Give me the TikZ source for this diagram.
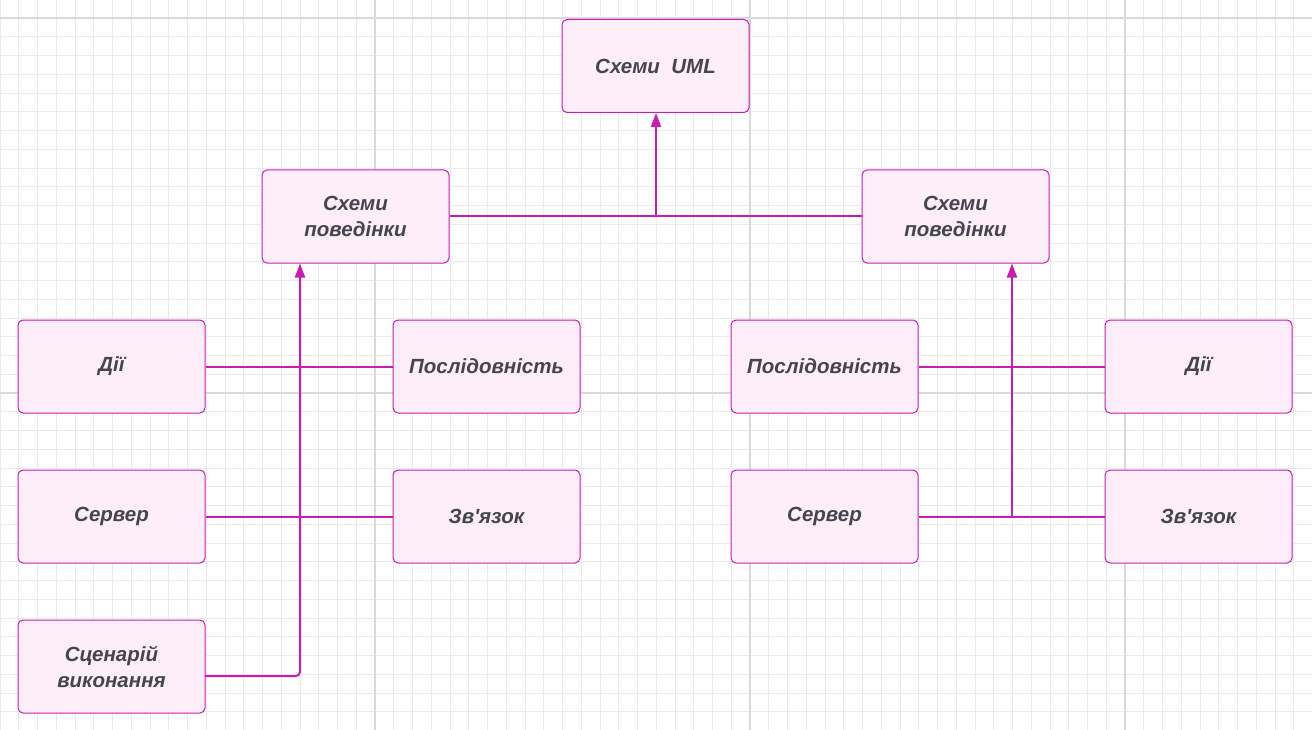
\documentclass[tikz,border=0pt]{standalone}
\usepackage{fontspec}
\setmainfont{Liberation Sans}[Ligatures=TeXOff]
\usetikzlibrary{arrows.meta,calc}
\definecolor{edge}{HTML}{C71DB3}
\definecolor{boxfill}{HTML}{FDEEFA}
\definecolor{txt}{HTML}{45454F}
\definecolor{gridminor}{HTML}{EBEBEB}
\definecolor{gridmajor}{HTML}{DADADA}
\tikzset{
  umlbox/.style={draw=edge, line width=1pt, fill=boxfill, rounded corners=5pt,
    minimum width=187pt, minimum height=93pt, inner sep=0pt, align=center,
    text=txt, font=\fontsize{20.5}{26}\selectfont\bfseries\itshape},
  conn/.style={draw=edge, line width=2pt},
  arr/.style={conn, -{Triangle[width=10pt,length=14pt]}},
  gminor/.style={draw=gridminor, line width=0.9pt},
  gmajor/.style={draw=gridmajor, line width=2pt}
}
\begin{document}
\begin{tikzpicture}[x=1pt,y=-1pt]
\useasboundingbox (0,0) rectangle (1312,730);
\fill[white] (0,0) rectangle (1312,730);
\foreach \i in {0,...,70} {\draw[gminor] (\i*18.75,0) -- (\i*18.75,730);}
\foreach \j in {-1,...,38} {\draw[gminor] (0,18+\j*18.75) -- (1312,18+\j*18.75);}
\foreach \x in {375,750,1125} {\draw[gmajor] (\x,0) -- (\x,730);}
\foreach \y in {18,393} {\draw[gmajor] (0,\y) -- (1312,\y);}

\node[umlbox] (uml) at (655.5,66) {Схеми\ \ UML};
\node[umlbox] (lb) at (355.5,216.5) {Схеми\\поведінки};
\node[umlbox] (rb) at (955.5,216.5) {Схеми\\поведінки};

\node[umlbox] (d1) at (111.5,366.5) {Дії};
\node[umlbox] (p1) at (486.5,366.5) {Послідовність};
\node[umlbox] (s1) at (111.5,516.5) {Сервер};
\node[umlbox] (z1) at (486.5,516.5) {Зв'язок};
\node[umlbox] (sc) at (111.5,666.5) {Сценарій\\виконання};

\node[umlbox] (p2) at (824.5,366.5) {Послідовність};
\node[umlbox] (d2) at (1198.5,366.5) {Дії};
\node[umlbox] (s2) at (824.5,516.5) {Сервер};
\node[umlbox] (z2) at (1198.5,516.5) {Зв'язок};

% top
\draw[conn] (lb.east) -- (rb.west);
\coordinate (topj) at (656,216.5);
\draw[arr] (topj) -- (topj |- uml.south);

% left group
\draw[conn] (d1.east) -- (p1.west);
\draw[conn] (s1.east) -- (z1.west);
\coordinate (scout) at (205,676);
\coordinate (lcorner) at (300,676);
\coordinate (ltop) at (300,263);
\draw[arr, rounded corners=4pt] (scout) -- (lcorner) -- (ltop |- lb.south);

% right group
\draw[conn] (p2.east) -- (d2.west);
\draw[conn] (s2.east) -- (z2.west);
\coordinate (rbot) at (1012,516.5);
\draw[arr] (rbot) -- (rbot |- rb.south);
\end{tikzpicture}
\end{document}
